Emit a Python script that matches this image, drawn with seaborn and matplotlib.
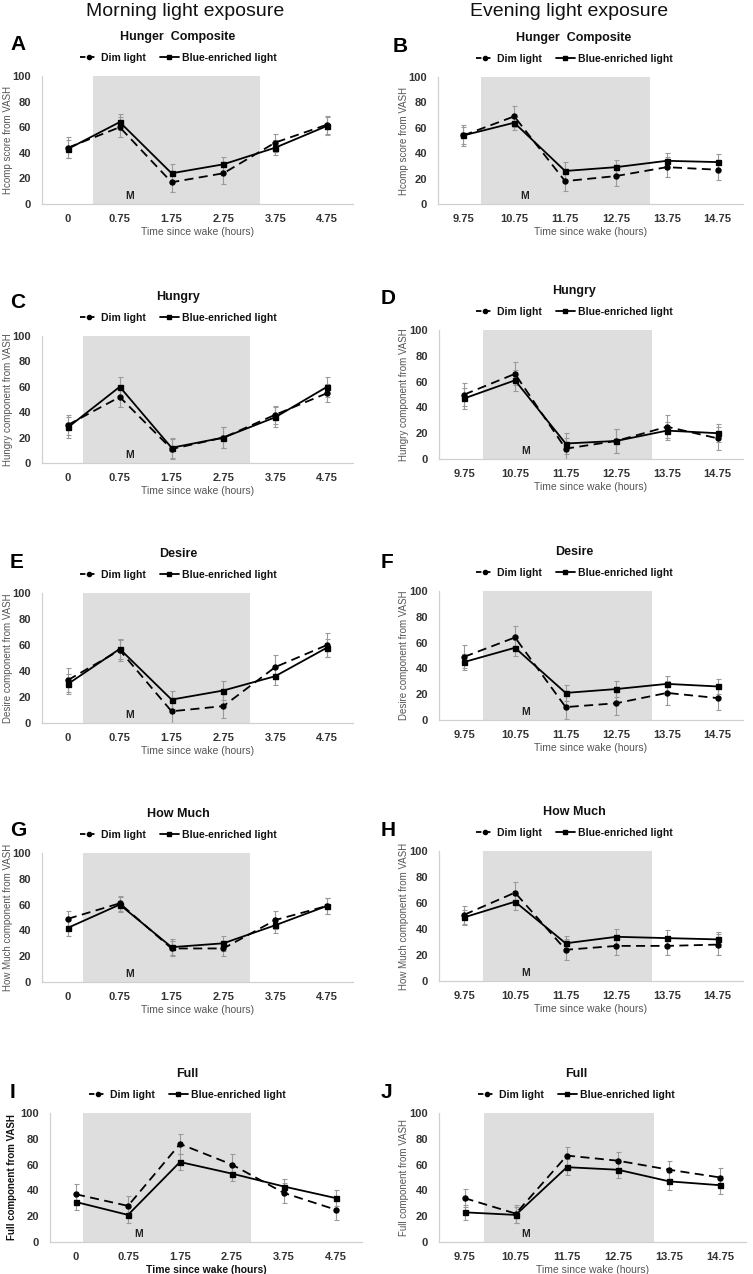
import matplotlib
matplotlib.use("Agg")
import matplotlib.pyplot as plt
from matplotlib.lines import Line2D
import numpy as np
import pandas as pd
import seaborn as sns

sns.set_style("white")
plt.rcParams['font.family'] = ['Liberation Sans', 'DejaVu Sans']

# ---------------- data ----------------
x_morning = ["0", "0.75", "1.75", "2.75", "3.75", "4.75"]
x_evening = ["9.75", "10.75", "11.75", "12.75", "13.75", "14.75"]
conditions = ["Dim light", "Blue-enriched light"]

hcomp_m_dim = [44, 60, 17, 24, 48, 62]
hcomp_m_blue = [43, 64, 24, 31, 44, 61]
hcomp_e_dim = [54, 69, 18, 22, 29, 27]
hcomp_e_blue = [54, 64, 26, 29, 34, 33]
hungry_m_dim = [30, 52, 11, 20, 38, 55]
hungry_m_blue = [28, 60, 12, 20, 36, 60]
hungry_e_dim = [50, 66, 8, 14, 25, 16]
hungry_e_blue = [47, 61, 12, 14, 22, 20]
desire_m_dim = [33, 56, 9, 13, 43, 60]
desire_m_blue = [30, 57, 18, 25, 36, 58]
desire_e_dim = [49, 64, 10, 13, 21, 17]
desire_e_blue = [45, 56, 21, 24, 28, 26]
howmuch_m_dim = [49, 61, 26, 26, 48, 59]
howmuch_m_blue = [42, 60, 27, 30, 44, 59]
howmuch_e_dim = [51, 68, 24, 27, 27, 28]
howmuch_e_blue = [49, 61, 29, 34, 33, 32]
full_m_dim = [37, 28, 76, 60, 38, 25]
full_m_blue = [31, 21, 62, 53, 43, 34]
full_e_dim = [34, 22, 67, 63, 56, 50]
full_e_blue = [23, 21, 58, 56, 47, 44]

# error bars (SEM)
err_hcomp_m_dim = [8, 8, 8, 8, 7, 7]
err_hcomp_m_blue = [7, 6, 7, 6, 6, 7]
err_hcomp_e_dim = [8, 8, 8, 8, 8, 8]
err_hcomp_e_blue = [7, 6, 7, 6, 6, 6]
err_hungry_m_dim = [8, 8, 8, 8, 7, 7]
err_hungry_m_blue = [8, 8, 8, 8, 8, 8]
err_hungry_e_dim = [9, 9, 8, 9, 9, 9]
err_hungry_e_blue = [8, 8, 8, 9, 7, 7]
err_desire_m_dim = [9, 8, 9, 9, 9, 9]
err_desire_m_blue = [8, 8, 7, 7, 7, 7]
err_desire_e_dim = [9, 9, 9, 9, 9, 9]
err_desire_e_blue = [6, 6, 6, 6, 6, 6]
err_howmuch_m_dim = [6, 6, 6, 6, 7, 6]
err_howmuch_m_blue = [6, 6, 6, 6, 6, 6]
err_howmuch_e_dim = [7, 8, 8, 7, 7, 8]
err_howmuch_e_blue = [6, 6, 6, 6, 6, 6]
err_full_m_dim = [8, 8, 8, 8, 8, 8]
err_full_m_blue = [6, 6, 6, 6, 6, 6]
err_full_e_dim = [7, 7, 7, 7, 7, 7]
err_full_e_blue = [6, 6, 6, 6, 7, 7]

titles = ["Hunger  Composite", "Hunger  Composite", "Hungry", "Hungry", "Desire", "Desire",
          "How Much", "How Much", "Full", "Full"]
ylabels = ["Hcomp score from VASH", "Hcomp score from VASH",
           "Hungry component from VASH", "Hungry component from VASH",
           "Desire component from VASH", "Desire component from VASH",
           "How Much component from VASH", "How Much component from VASH",
           "Full component from VASH", "Full component from VASH"]
letters = ["A", "B", "C", "D", "E", "F", "G", "H", "I", "J"]
xlabel = "Time since wake (hours)"
ytick_vals = [0, 20, 40, 60, 80, 100]

series = [
    (x_morning, hcomp_m_dim, hcomp_m_blue, err_hcomp_m_dim, err_hcomp_m_blue),
    (x_evening, hcomp_e_dim, hcomp_e_blue, err_hcomp_e_dim, err_hcomp_e_blue),
    (x_morning, hungry_m_dim, hungry_m_blue, err_hungry_m_dim, err_hungry_m_blue),
    (x_evening, hungry_e_dim, hungry_e_blue, err_hungry_e_dim, err_hungry_e_blue),
    (x_morning, desire_m_dim, desire_m_blue, err_desire_m_dim, err_desire_m_blue),
    (x_evening, desire_e_dim, desire_e_blue, err_desire_e_dim, err_desire_e_blue),
    (x_morning, howmuch_m_dim, howmuch_m_blue, err_howmuch_m_dim, err_howmuch_m_blue),
    (x_evening, howmuch_e_dim, howmuch_e_blue, err_howmuch_e_dim, err_howmuch_e_blue),
    (x_morning, full_m_dim, full_m_blue, err_full_m_dim, err_full_m_blue),
    (x_evening, full_e_dim, full_e_blue, err_full_e_dim, err_full_e_blue),
]

# ---------------- layout (pixels) ----------------
W, H = 753, 1274
# left, top, right, bottom of axes
boxes = [
    (42, 76, 353, 204), (438, 77, 743, 204),
    (42, 336, 353, 463), (439, 330, 743, 459),
    (42, 593, 353, 723), (439, 591, 743, 720),
    (42, 853, 353, 982), (439, 851, 743, 981),
    (50, 1113, 362, 1242), (439, 1113, 746, 1242),
]
shades = [(0.48, 3.71), (0.34, 3.68), (0.29, 3.52), (0.37, 3.70), (0.29, 3.52),
          (0.37, 3.70), (0.29, 3.52), (0.37, 3.70), (0.13, 3.37), (0.37, 3.70)]
center_x = [178, 574, 178, 574, 178, 574, 178, 574, 187, 576]
letter_pos = [(10, 45), (393, 46), (10, 302), (381, 299), (10, 562), (381, 562),
              (10, 830), (381, 830), (10, 1092), (381, 1093)]

fig = plt.figure(figsize=(W / 100, H / 100), dpi=100)

fig.text(185 / W, 1 - 11 / H, "Morning light exposure", ha="center", va="center", fontsize=14, color="#111111")
fig.text(569 / W, 1 - 11 / H, "Evening light exposure", ha="center", va="center", fontsize=14, color="#111111")

tick_color = "#333333"
label_color = "#555555"
spine_color = "#d0d0d0"

for i in range(10):
    xcats, dim, blue, edim, eblue = series[i]
    l, t, r, b = boxes[i]
    ax = fig.add_axes([l / W, 1 - b / H, (r - l) / W, (b - t) / H])
    bold_labels = (i == 8)

    df = pd.DataFrame({
        "time": list(xcats) * 2,
        "value": list(dim) + list(blue),
        "cond": [conditions[0]] * len(xcats) + [conditions[1]] * len(xcats),
    })
    ax.axvspan(shades[i][0], shades[i][1], ymin=0, ymax=1, color="#dedede", zorder=0, lw=0)
    pos = np.arange(len(xcats))
    ax.errorbar(pos, dim, yerr=edim, fmt="none", ecolor="#9a9a9a", elinewidth=0.8,
                capsize=1.8, capthick=0.8, zorder=2)
    ax.errorbar(pos, blue, yerr=eblue, fmt="none", ecolor="#9a9a9a", elinewidth=0.8,
                capsize=1.8, capthick=0.8, zorder=2)
    sns.pointplot(data=df, x="time", y="value", hue="cond", order=xcats, hue_order=conditions,
                  palette=["black", "black"], markers=["o", "s"],
                  linestyles=[(0, (5, 3)), "-"], errorbar=None, dodge=False,
                  legend=False, ax=ax, markersize=3.6, linewidth=1.3, zorder=3)

    ax.set_xlim(-0.5, len(xcats) - 0.5)
    ax.set_ylim(0, 100)
    ax.set_yticks(ytick_vals)
    ax.set_yticklabels([str(v) for v in ytick_vals])
    ax.tick_params(axis="both", length=0, labelsize=8, colors=tick_color)
    ax.tick_params(axis="x", pad=7)
    ax.tick_params(axis="y", pad=8)
    for lab in ax.get_xticklabels() + ax.get_yticklabels():
        lab.set_fontweight("bold")
    for s in ["top", "right"]:
        ax.spines[s].set_visible(False)
    for s in ["left", "bottom"]:
        ax.spines[s].set_color(spine_color)
        ax.spines[s].set_linewidth(0.9)
    ax.set_facecolor("none")

    ax.text(1.2, 2.5, "M", ha="center", va="bottom", fontsize=7.5, fontweight="bold", color="#222222")

    w_px = r - l
    h_px = b - t
    ax.set_xlabel(xlabel, fontsize=7.5, color=("#111111" if bold_labels else label_color),
                  fontweight=("bold" if bold_labels else "normal"))
    ax.xaxis.set_label_coords(0.5, -23 / h_px)
    ax.set_ylabel(ylabels[i], fontsize=7, color=("#111111" if bold_labels else label_color),
                  fontweight=("bold" if bold_labels else "normal"))
    ylab_right = 13 if (i % 2 == 0) else 376 + 33
    if i == 8:
        ylab_right = 17
    ax.yaxis.set_label_coords((ylab_right - l) / w_px, 0.5)

    cx = center_x[i]
    fig.text(cx / W, 1 - (t - 39) / H, titles[i], ha="center", va="center", fontsize=9,
             fontweight="bold", color="#111111")
    handles = [
        Line2D([], [], color="black", lw=1.3, linestyle=(0, (3, 2)), marker="o", markersize=3,
               markevery=[1]),
        Line2D([], [], color="black", lw=1.3, linestyle="-", marker="s", markersize=3,
               markevery=[1]),
    ]
    leg = fig.legend(handles, conditions, loc="center", bbox_to_anchor=(cx / W, 1 - (t - 18) / H),
                     ncol=2, frameon=False, fontsize=7.5, handlelength=1.8, handletextpad=0.3,
                     columnspacing=1.3, borderaxespad=0, borderpad=0)
    for txt in leg.get_texts():
        txt.set_fontweight("bold")
        txt.set_color("#111111")

    lx, ly = letter_pos[i]
    fig.text(lx / W, 1 - ly / H, letters[i], ha="left", va="center", fontsize=15,
             fontweight="bold", color="black")

fig.savefig("out.png", dpi=100)
